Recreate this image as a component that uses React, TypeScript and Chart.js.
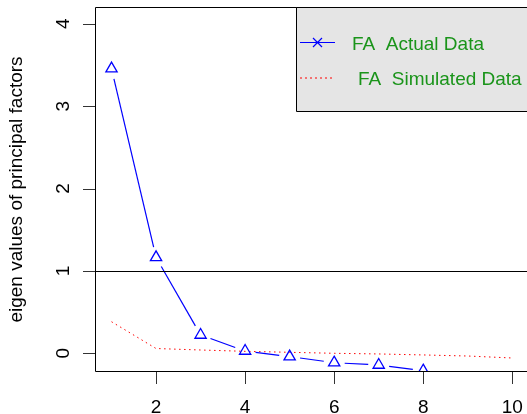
import React, { useEffect, useRef } from "react";
import { Chart, registerables } from "chart.js";

Chart.register(...registerables);

// ---- data ----
const factorNumbers = [1, 2, 3, 4, 5, 6, 7, 8, 9, 10];
const actualEigen = [3.455, 1.164, 0.222, 0.028, -0.04, -0.114, -0.142, -0.211];
const simulatedEigen = [0.383, 0.058, 0.04, 0.024, 0.012, 0.0, -0.008, -0.02, -0.033, -0.057];
const xTickValues = [2, 4, 6, 8, 10];
const yTickValues = [0, 1, 2, 3, 4];
const referenceLine = 1;
const yTitle = "eigen values of principal factors";
const legendLabels = ["FA  Actual Data", "FA  Simulated Data"];

// ---- styles ----
const FONT = '19px "Liberation Sans", Arial, Helvetica, sans-serif';
const BLUE = "#0000ff";
const RED = "#ff0000";
const GREEN = "#1a941a";
const POINT_GAP = 10.5;
const TICK_LEN = 12;

const rStylePlugin = {
  id: "rStyle",
  afterDatasetsDraw(chart: any) {
    const ctx = chart.ctx;
    const area = chart.chartArea;
    const meta = chart.getDatasetMeta(0);
    const pts = meta.data;
    ctx.save();
    ctx.beginPath();
    ctx.rect(area.left, area.top, area.right - area.left, area.bottom - area.top);
    ctx.clip();
    // type "b" line segments with gaps around points
    ctx.strokeStyle = BLUE;
    ctx.lineWidth = 1.2;
    for (let i = 0; i < pts.length - 1; i++) {
      const p = pts[i];
      const q = pts[i + 1];
      const dx = q.x - p.x;
      const dy = q.y - p.y;
      const len = Math.hypot(dx, dy);
      if (len <= 2 * POINT_GAP) continue;
      const ux = dx / len;
      const uy = dy / len;
      ctx.beginPath();
      ctx.moveTo(p.x + ux * POINT_GAP, p.y + uy * POINT_GAP);
      ctx.lineTo(q.x - ux * POINT_GAP, q.y - uy * POINT_GAP);
      ctx.stroke();
    }
    // reference line at 1
    const yScale = chart.scales.y;
    const hy = Math.round(yScale.getPixelForValue(referenceLine)) + 0.5;
    ctx.strokeStyle = "#000";
    ctx.lineWidth = 1;
    ctx.beginPath();
    ctx.moveTo(area.left, hy);
    ctx.lineTo(area.right, hy);
    ctx.stroke();
    ctx.restore();
  },
  afterDraw(chart: any) {
    const ctx = chart.ctx;
    const area = chart.chartArea;
    const xScale = chart.scales.x;
    const yScale = chart.scales.y;
    ctx.save();
    // plot box
    ctx.strokeStyle = "#000";
    ctx.lineWidth = 1;
    ctx.beginPath();
    ctx.moveTo(area.left + 0.5, area.top + 0.5);
    ctx.lineTo(area.right + 0.5, area.top + 0.5);
    ctx.lineTo(area.right + 0.5, area.bottom - 0.5);
    ctx.lineTo(area.left + 0.5, area.bottom - 0.5);
    ctx.closePath();
    ctx.stroke();

    // ticks
    ctx.strokeStyle = "#333";
    ctx.beginPath();
    xTickValues.forEach((v) => {
      const px = Math.round(xScale.getPixelForValue(v)) + 0.5;
      ctx.moveTo(px, area.bottom);
      ctx.lineTo(px, area.bottom + TICK_LEN);
    });
    yTickValues.forEach((v) => {
      const py = Math.round(yScale.getPixelForValue(v)) + 0.5;
      ctx.moveTo(area.left - TICK_LEN, py);
      ctx.lineTo(area.left, py);
    });
    ctx.stroke();

    // tick labels
    ctx.fillStyle = "#000";
    ctx.font = FONT;
    ctx.textAlign = "center";
    ctx.textBaseline = "alphabetic";
    xTickValues.forEach((v) => {
      const px = xScale.getPixelForValue(v);
      ctx.fillText(String(v), px, 413);
    });
    yTickValues.forEach((v) => {
      const py = yScale.getPixelForValue(v);
      ctx.save();
      ctx.translate(69, py);
      ctx.rotate(-Math.PI / 2);
      ctx.fillText(String(v), 0, 0);
      ctx.restore();
    });

    // y title
    ctx.save();
    ctx.translate(21.5, (area.top + area.bottom) / 2);
    ctx.rotate(-Math.PI / 2);
    ctx.fillText(yTitle, 0, 0);
    ctx.restore();

    // legend
    const lx = 296.5;
    const ly = area.top + 0.5;
    const lb = 111.5;
    ctx.fillStyle = "#e5e5e5";
    ctx.fillRect(lx, ly, chart.width - lx + 2, lb - ly);
    ctx.strokeStyle = "#000";
    ctx.lineWidth = 1;
    ctx.beginPath();
    ctx.moveTo(chart.width + 2, ly);
    ctx.lineTo(lx, ly);
    ctx.lineTo(lx, lb);
    ctx.lineTo(chart.width + 2, lb);
    ctx.stroke();

    // entry 1
    ctx.strokeStyle = BLUE;
    ctx.lineWidth = 1.2;
    ctx.beginPath();
    ctx.moveTo(300, 42.5);
    ctx.lineTo(335, 42.5);
    ctx.moveTo(313, 38);
    ctx.lineTo(322, 47);
    ctx.moveTo(322, 38);
    ctx.lineTo(313, 47);
    ctx.stroke();
    // entry 2
    ctx.strokeStyle = RED;
    ctx.lineWidth = 1;
    ctx.setLineDash([2, 3]);
    ctx.beginPath();
    ctx.moveTo(300, 78);
    ctx.lineTo(332, 78);
    ctx.stroke();
    ctx.setLineDash([]);

    ctx.fillStyle = GREEN;
    ctx.textAlign = "left";
    ctx.fillText(legendLabels[0], 352, 50);
    ctx.fillText(legendLabels[1], 358, 85);
    ctx.restore();
  },
};

export default function App() {
  const canvasRef = useRef<HTMLCanvasElement | null>(null);

  useEffect(() => {
    const canvas = canvasRef.current;
    if (!canvas) return;
    const chart = new Chart(canvas, {
      type: "line",
      data: {
        datasets: [
          {
            label: "FA Actual Data",
            data: actualEigen.map((v, i) => ({ x: factorNumbers[i], y: v })),
            showLine: false,
            pointStyle: "triangle",
            pointRadius: 6.5,
            pointBorderColor: BLUE,
            pointBackgroundColor: "rgba(0,0,0,0)",
            pointBorderWidth: 1.3,
            clip: 0,
          } as any,
          {
            label: "FA Simulated Data",
            data: simulatedEigen.map((v, i) => ({ x: factorNumbers[i], y: v })),
            showLine: true,
            borderColor: RED,
            borderWidth: 1,
            borderDash: [1.5, 3.5],
            pointRadius: 0,
            tension: 0,
            clip: 0,
          } as any,
        ],
      },
      options: {
        animation: false,
        responsive: false,
        devicePixelRatio: 1,
        layout: { autoPadding: false, padding: { left: 95, top: 7, right: 0, bottom: 42 } },
        scales: {
          x: { type: "linear", min: 0.629, max: 10.33, display: false },
          y: { type: "linear", min: -0.227, max: 4.203, display: false },
        },
        plugins: {
          legend: { display: false },
          tooltip: { enabled: false },
        },
      },
      plugins: [rStylePlugin],
    });
    return () => chart.destroy();
  }, []);

  return (
    <div style={{ position: "fixed", left: 0, top: 0, width: 527, height: 414, background: "#fff" }}>
      <canvas
        ref={canvasRef}
        width={527}
        height={414}
        style={{ display: "block", width: 527, height: 414 }}
      />
    </div>
  );
}
